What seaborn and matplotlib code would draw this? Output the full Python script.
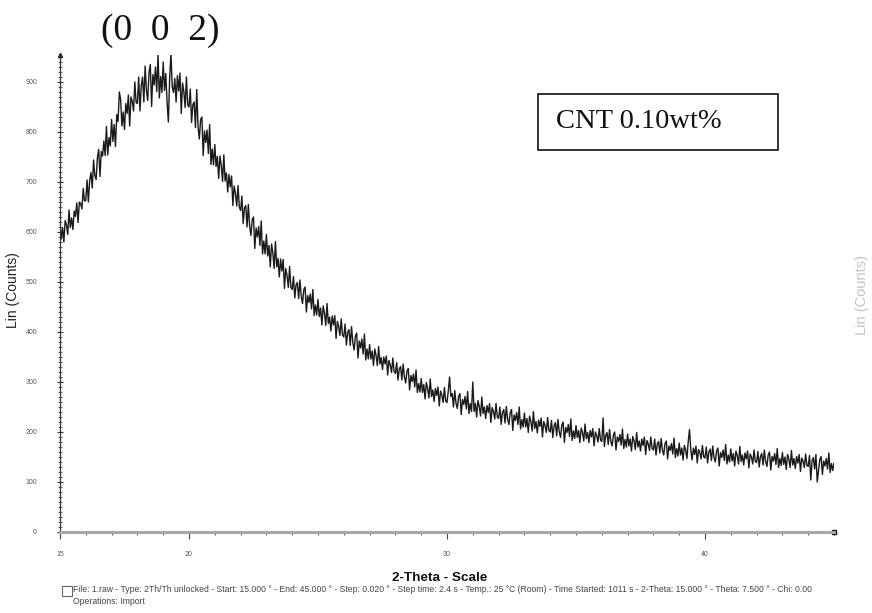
import numpy as np
import pandas as pd
import matplotlib
matplotlib.use("Agg")
import matplotlib.pyplot as plt
from matplotlib.patches import Rectangle
from matplotlib.ticker import MultipleLocator, FixedLocator
import seaborn as sns

# 2-theta scan, 15.00 to 45.00 deg, one reading every 0.05 deg (20 per row = 1 deg)
two_theta_start = 15.0
two_theta_step = 0.05
counts = [
    615, 586, 609, 580, 623, 614, 595, 644, 609, 628, 605, 642, 631, 658, 619, 660, 657, 646, 687, 662,  # 15
    663, 704, 660, 703, 719, 688, 744, 713, 705, 749, 765, 711, 761, 752, 782, 753, 811, 754, 789, 772,  # 16
    825, 781, 815, 771, 835, 821, 880, 865, 812, 840, 805, 857, 837, 874, 812, 870, 862, 842, 900, 859,  # 17
    857, 910, 842, 893, 910, 860, 932, 883, 863, 919, 935, 851, 915, 894, 930, 881, 955, 868, 911, 879,  # 18
    940, 883, 917, 860, 820, 907, 958, 890, 879, 907, 860, 913, 882, 918, 837, 898, 881, 849, 910, 854,  # 19
    850, 886, 819, 855, 860, 809, 885, 811, 786, 825, 830, 753, 802, 779, 804, 757, 815, 735, 766, 734,  # 20
    775, 731, 751, 707, 752, 733, 701, 754, 702, 718, 680, 715, 690, 712, 653, 692, 677, 652, 693, 650,  # 21
    643, 672, 617, 648, 653, 610, 655, 612, 593, 625, 630, 567, 608, 590, 611, 573, 622, 556, 582, 556,  # 22
    595, 552, 573, 530, 576, 558, 527, 581, 530, 547, 510, 546, 522, 545, 487, 527, 513, 489, 531, 489,  # 23
    485, 511, 468, 494, 499, 467, 504, 472, 457, 485, 490, 440, 473, 459, 476, 446, 485, 433, 454, 434,  # 24
    465, 431, 448, 414, 452, 438, 413, 457, 417, 430, 402, 432, 414, 433, 387, 421, 411, 393, 426, 394,  # 25
    390, 416, 374, 399, 405, 373, 411, 379, 364, 392, 398, 348, 382, 368, 386, 356, 396, 344, 366, 346,  # 26
    375, 346, 362, 333, 366, 353, 333, 371, 336, 349, 325, 350, 336, 352, 314, 343, 334, 319, 348, 321,  # 27
    317, 339, 304, 326, 331, 304, 336, 310, 298, 322, 327, 284, 313, 301, 316, 290, 324, 279, 297, 280,  # 28
    307, 279, 295, 266, 299, 287, 268, 306, 271, 284, 261, 287, 273, 290, 252, 282, 274, 259, 289, 262,  # 29
    259, 282, 310, 271, 277, 250, 283, 257, 247, 271, 277, 235, 265, 255, 271, 246, 281, 237, 257, 241,  # 30
    300, 241, 257, 230, 263, 251, 232, 270, 237, 250, 227, 253, 239, 257, 219, 249, 241, 226, 257, 230,  # 31
    227, 250, 215, 239, 245, 218, 251, 225, 215, 239, 245, 203, 234, 223, 239, 215, 250, 206, 225, 210,  # 32
    238, 210, 227, 199, 232, 221, 202, 241, 207, 221, 198, 224, 211, 228, 190, 221, 213, 199, 229, 203,  # 33
    200, 223, 189, 212, 219, 192, 225, 200, 189, 214, 220, 179, 209, 199, 215, 191, 226, 183, 202, 187,  # 34
    213, 189, 203, 179, 208, 199, 182, 216, 187, 199, 179, 203, 190, 207, 172, 200, 193, 180, 207, 184,  # 35
    181, 228, 171, 193, 199, 175, 205, 181, 172, 194, 200, 164, 190, 181, 195, 174, 206, 167, 185, 170,  # 36
    196, 172, 186, 162, 191, 182, 165, 199, 170, 182, 162, 186, 173, 190, 155, 183, 176, 163, 190, 167,  # 37
    164, 186, 154, 176, 181, 158, 187, 164, 154, 177, 182, 146, 172, 163, 177, 156, 188, 149, 167, 152,  # 38
    178, 154, 168, 144, 173, 164, 147, 181, 205, 164, 144, 168, 155, 172, 138, 165, 159, 146, 173, 150,  # 39
    148, 170, 138, 160, 166, 143, 172, 149, 140, 162, 168, 132, 159, 149, 164, 143, 175, 136, 154, 140,  # 40
    166, 142, 157, 132, 162, 153, 136, 171, 141, 154, 134, 158, 146, 162, 128, 156, 150, 136, 164, 141,  # 41
    139, 161, 130, 151, 157, 134, 164, 141, 131, 154, 160, 124, 151, 142, 157, 135, 167, 129, 147, 133,  # 42
    159, 135, 150, 125, 155, 146, 129, 163, 134, 147, 127, 151, 138, 155, 121, 148, 142, 129, 156, 133,  # 43
    131, 153, 104, 143, 149, 126, 155, 100, 123, 145, 151, 115, 142, 132, 147, 126, 158, 119, 137, 123,  # 44
    138,                                                                                                  # 45
]
x_tick_values = [15, 20, 30, 40]
x_tick_labels = ["15", "20", "30", "40"]
y_tick_values = [0, 100, 200, 300, 400, 500, 600, 700, 800, 900]
peak_label = "(0  0  2)"
sample_label = "CNT 0.10wt%"
footer_line1 = ("File: 1.raw - Type: 2Th/Th unlocked - Start: 15.000 \u00b0 - End: 45.000 \u00b0 - "
                "Step: 0.020 \u00b0 - Step time: 2.4 s - Temp.: 25 \u00b0C (Room) - Time Started: 1011 s - "
                "2-Theta: 15.000 \u00b0 - Theta: 7.500 \u00b0 - Chi: 0.00")
footer_line2 = "Operations: Import"

two_theta = two_theta_start + two_theta_step * np.arange(len(counts))
df = pd.DataFrame({"two_theta": two_theta, "counts": counts})

sns.set_style("white")
plt.rcParams["font.family"] = ["Liberation Sans", "DejaVu Sans"]

W, H = 872, 613
fig = plt.figure(figsize=(W / 100, H / 100), dpi=100)
fig.patch.set_facecolor("white")

# axes placed in pixel units
x0, x1 = 60, 834      # 15 deg .. 45 deg
y0, y1 = 532, 55      # 0 counts .. top
ax = fig.add_axes([x0 / W, 1 - y0 / H, (x1 - x0) / W, (y0 - y1) / H])

sns.lineplot(data=df, x="two_theta", y="counts", ax=ax, color="#1a1a1a",
             linewidth=1.0, estimator=None, sort=False)

ax.set_xlim(15, 45)
ax.set_ylim(0, 954)

for s in ("top", "right"):
    ax.spines[s].set_visible(False)
ax.spines["left"].set_color("#333333")
ax.spines["left"].set_linewidth(0.9)
ax.spines["bottom"].set_color("#a8a8a8")
ax.spines["bottom"].set_linewidth(2.2)

ax.xaxis.set_major_locator(FixedLocator(x_tick_values))
ax.set_xticklabels(x_tick_labels)
ax.xaxis.set_minor_locator(MultipleLocator(1))
ax.yaxis.set_major_locator(FixedLocator(y_tick_values))
ax.yaxis.set_minor_locator(MultipleLocator(10))

ax.tick_params(axis="x", which="major", direction="out", length=5, width=0.8,
               color="#444444", labelsize=5, labelcolor="#555555", pad=9, bottom=True)
ax.tick_params(axis="x", which="minor", direction="out", length=2.5, width=0.7,
               color="#555555", bottom=True)
ax.tick_params(axis="y", which="major", direction="inout", length=5, width=0.8,
               color="#333333", labelsize=5, labelcolor="#555555", pad=14, left=True)
ax.tick_params(axis="y", which="minor", direction="inout", length=2.5, width=0.6,
               color="#444444", left=True)

ax.set_xlabel("2-Theta - Scale", fontsize=9.7, fontweight="bold", color="#111111")
ax.xaxis.set_label_coords((440 - x0) / (x1 - x0), -(572 - y0) / (y0 - y1), transform=ax.transAxes)
ax.set_ylabel("Lin (Counts)", fontsize=10, color="#222222")
ax.yaxis.set_label_coords(-(x0 - 20) / (x1 - x0), (y0 - 290) / (y0 - y1), transform=ax.transAxes)

# axis end markers
ax.plot([0], [1], marker="^", markersize=3, color="#222222", transform=ax.transAxes, clip_on=False)
ax.plot([1], [0], marker="s", markersize=2.5, color="#111111", transform=ax.transAxes, clip_on=False)

# reflection label
fig.text(160 / W, 1 - 31 / H, peak_label, fontsize=27, family="Liberation Serif",
         ha="center", va="center", color="#111111")

# sample box
bx0, bx1, by0, by1 = 538, 778, 94, 150
fig.patches.append(Rectangle((bx0 / W, 1 - by1 / H), (bx1 - bx0) / W, (by1 - by0) / H,
                             transform=fig.transFigure, fill=False, edgecolor="#111111",
                             linewidth=1.2))
fig.text(556 / W, 1 - 122 / H, sample_label, fontsize=20.5, family="Liberation Serif",
         ha="left", va="center", color="#111111")

# neighbouring panel's axis title at the right edge
fig.text(862 / W, 1 - 295 / H, "Lin (Counts)", fontsize=10.5, rotation=90, ha="center",
         va="center", color="#c4c4c4")

# scan info footer
fig.patches.append(Rectangle((62 / W, 1 - 596 / H), 10 / W, 10 / H, transform=fig.transFigure,
                             fill=False, edgecolor="#666666", linewidth=0.8))
fig.text(73 / W, 1 - 590 / H, footer_line1, fontsize=6.2, ha="left", va="center", color="#444444")
fig.text(73 / W, 1 - 602 / H, footer_line2, fontsize=6.2, ha="left", va="center", color="#444444")

fig.savefig("out.png", dpi=100)
